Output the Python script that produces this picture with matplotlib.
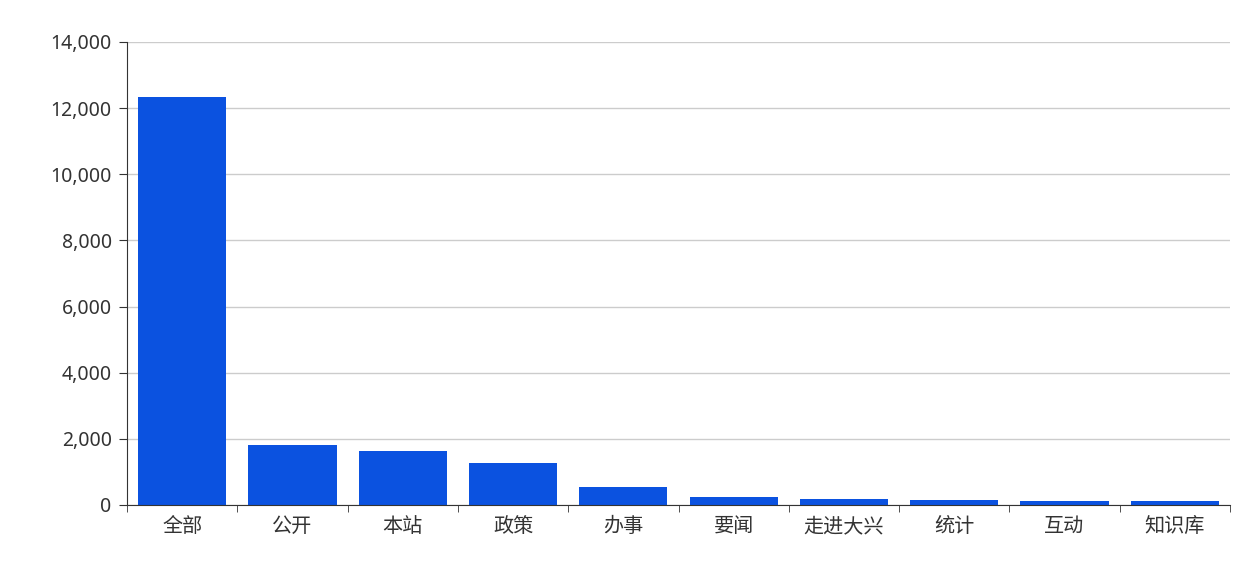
import numpy as np
import matplotlib
matplotlib.use("Agg")
import matplotlib.pyplot as plt
from matplotlib.ticker import FuncFormatter, FixedLocator

plt.rcParams['font.family'] = ['Noto Sans CJK SC', 'DejaVu Sans']

categories = ["全部", "公开", "本站", "政策", "办事", "要闻", "走进大兴", "统计", "互动", "知识库"]
counts = [12345, 1800, 1630, 1270, 535, 252, 181, 151, 121, 131]
y_ticks = [0, 2000, 4000, 6000, 8000, 10000, 12000, 14000]

fig = plt.figure(figsize=(12.6, 5.61), dpi=100)
ax = fig.add_axes([127 / 1260, 1 - 505 / 561, (1230 - 127) / 1260, (505 - 42) / 561])

x = np.arange(len(categories))
ax.bar(x, counts, width=0.8, color="#0b52e0", zorder=2)

ax.set_xlim(-0.5, len(categories) - 0.5)
ax.set_ylim(0, 14000)
ax.set_yticks(y_ticks)
ax.yaxis.set_major_formatter(FuncFormatter(lambda v, _: f"{int(v):,}"))
ax.grid(axis="y", color="#cccccc", lw=1, zorder=0)

ax.set_xticks(x)
ax.set_xticklabels(categories)
ax.xaxis.set_minor_locator(FixedLocator(np.arange(len(categories) + 1) - 0.5))
ax.tick_params(axis="x", which="major", length=0, pad=8, labelsize=14.5, colors="#333333")
ax.tick_params(axis="x", which="minor", length=5, color="#333333")
ax.tick_params(axis="y", length=6, pad=5, labelsize=14, colors="#333333")
for lab in ax.get_yticklabels():
    lab.set_fontfamily(["Noto Sans", "DejaVu Sans"])

for s in ["top", "right"]:
    ax.spines[s].set_visible(False)
ax.spines["left"].set_color("#333333")
ax.spines["bottom"].set_color("#333333")

fig.savefig("out.png", dpi=100)
